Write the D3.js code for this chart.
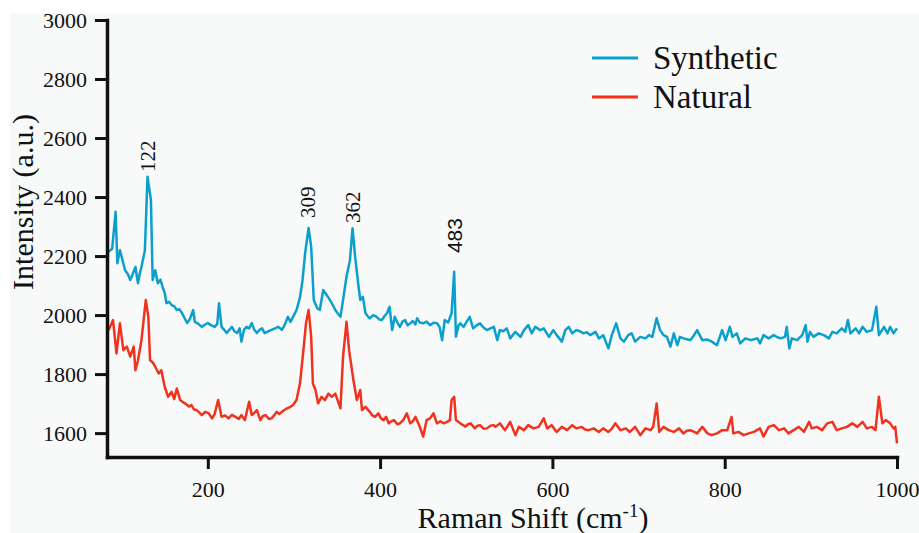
<!DOCTYPE html>
<html>
<head>
<meta charset="utf-8">
<script src="https://cdn.jsdelivr.net/npm/d3@7"></script>
<style>
  body { margin: 0; background: #ffffff; }
</style>
</head>
<body>
<div id="chart"></div>
<script>
// Raman spectra
var synShift = [84,89,93,95,98,101,104,107,110,113,116,119,121,123,127,130,134,136,139,142,145,148,150,152,155,158,161,164,167,170,173,176,179,183,185,189,193,197,200,204,208,211,213,216,219,222,225,228,231,234,237,239,242,245,248,251,254,257,260,263,266,270,274,278,282,286,289,293,296,300,303,307,310,313,317,320,323,327,330,334,338,341,344,348,351,354,357,361,365,368,371,375,377,380,383,386,388,392,396,399,402,405,408,411,414,417,420,423,426,429,432,435,438,441,443,446,450,454,458,462,466,469,472,475,479,483,486,488,491,493,497,500,504,508,512,516,520,524,528,532,536,539,543,547,551,557,563,567,572,576,580,586,590,596,601,605,611,615,619,623,628,632,636,640,644,650,654,659,665,669,674,679,683,688,692,696,702,708,712,716,721,725,729,733,737,741,745,748,752,756,760,764,768,774,780,785,791,797,801,806,809,814,818,824,830,834,838,841,845,851,857,861,865,870,872,875,878,884,890,894,896,899,903,909,915,921,925,930,936,940,943,946,952,956,960,965,971,976,979,985,989,992,996,1000];
var synIntensity = [2213,2225,2350,2176,2220,2186,2152,2140,2119,2140,2163,2108,2140,2163,2220,2469,2390,2119,2152,2108,2120,2091,2075,2040,2045,2034,2030,2017,2020,2007,1990,1973,1985,2017,1977,1970,1960,1968,1973,1965,1960,1970,2040,1960,1950,1939,1950,1960,1945,1939,1955,1910,1950,1960,1955,1973,1950,1939,1950,1955,1939,1945,1950,1955,1960,1950,1965,1994,1977,2000,2017,2060,2119,2210,2295,2232,2051,2023,2017,2085,2068,2055,2040,2017,2005,1994,2051,2130,2186,2294,2198,2096,2051,2062,2006,1995,1989,2000,1994,1985,1983,1996,2006,2028,1949,1994,1975,1960,1978,1983,1965,1972,1980,1968,1989,1975,1972,1978,1966,1974,1972,1960,1915,1983,1975,2006,2147,1927,1965,1972,1960,1975,1994,1955,1965,1972,1958,1949,1955,1960,1915,1949,1945,1955,1921,1943,1926,1949,1966,1938,1960,1949,1955,1926,1949,1932,1910,1949,1960,1938,1949,1945,1938,1942,1932,1943,1921,1932,1887,1932,1972,1921,1910,1932,1938,1910,1926,1921,1932,1926,1989,1949,1932,1926,1893,1938,1898,1926,1921,1918,1915,1930,1949,1915,1917,1910,1898,1949,1915,1960,1926,1938,1904,1921,1915,1918,1921,1904,1932,1921,1932,1925,1921,1926,1960,1887,1921,1915,1932,1966,1910,1943,1926,1938,1932,1921,1943,1938,1955,1943,1983,1938,1955,1938,1960,1943,1949,2028,1932,1960,1938,1960,1938,1955];

var natShift = [85,90,94,98,102,106,110,114,116,119,123,128,131,133,136,139,143,146,150,154,158,161,164,168,171,174,178,181,184,187,190,193,197,201,205,208,212,216,220,224,228,232,236,239,243,248,251,254,257,261,264,267,271,274,277,280,283,286,289,292,296,299,303,307,311,314,317,320,322,325,328,332,336,340,344,348,352,354,357,361,364,369,373,377,379,383,388,391,394,398,401,404,407,410,413,416,420,423,427,431,435,438,441,446,450,454,458,462,466,470,474,478,481,483,486,488,493,496,499,502,505,510,513,516,520,524,528,532,534,539,545,551,557,561,567,572,578,584,590,594,599,605,611,617,623,628,634,638,642,648,654,659,665,669,673,679,685,690,696,702,708,714,717,721,724,729,735,741,747,752,756,760,764,768,774,780,785,791,797,803,808,810,816,822,828,834,841,845,851,857,863,869,874,880,886,892,898,901,907,913,919,925,930,936,942,948,954,960,965,971,975,979,983,987,992,996,998,1000];
var natIntensity = [1949,1983,1870,1972,1881,1893,1859,1893,1813,1847,1915,2051,1994,1847,1840,1825,1802,1813,1757,1723,1740,1715,1751,1712,1705,1700,1690,1695,1680,1678,1670,1661,1672,1667,1650,1665,1712,1655,1660,1650,1662,1655,1648,1661,1644,1706,1661,1668,1678,1644,1658,1661,1648,1650,1660,1672,1665,1672,1678,1684,1689,1695,1712,1768,1881,1972,2017,1927,1768,1746,1701,1723,1712,1734,1723,1734,1701,1684,1859,1977,1881,1780,1712,1746,1678,1689,1672,1660,1655,1667,1650,1644,1655,1633,1640,1644,1630,1633,1645,1667,1633,1640,1655,1622,1588,1644,1650,1667,1633,1640,1633,1638,1644,1712,1723,1644,1633,1628,1622,1630,1633,1616,1625,1627,1615,1616,1625,1627,1621,1633,1610,1638,1593,1621,1610,1627,1616,1621,1650,1616,1627,1604,1621,1610,1627,1616,1621,1612,1610,1616,1604,1616,1604,1615,1633,1610,1616,1604,1621,1593,1616,1610,1621,1700,1604,1621,1610,1604,1616,1599,1608,1610,1605,1599,1621,1599,1593,1599,1610,1610,1655,1599,1604,1593,1599,1604,1616,1588,1621,1627,1610,1616,1599,1610,1621,1604,1638,1616,1621,1610,1633,1638,1610,1616,1621,1633,1621,1638,1616,1621,1610,1723,1633,1644,1633,1616,1621,1565];

var seriesNames = ["Synthetic", "Natural"];
var seriesColors = ["#0ba0cc", "#f0321e"];

var xTicks = [200, 400, 600, 800, 1000];
var yTicks = [1600, 1800, 2000, 2200, 2400, 2600, 2800, 3000];

var peakLabels = ["122", "309", "362", "483"];
var peakShift = [130, 316, 368, 486];
var peakLabelBase = [2485, 2329, 2312, 2210];

var serif = "'Liberation Serif', 'Times New Roman', serif";
var sans = "'Liberation Sans', Arial, sans-serif";

var svgWidth = 919;
var svgHeight = 533;

var margin = {
    top: 20,
    right: 22,
    bottom: 76,
    left: 107
};

var width = svgWidth - margin.left - margin.right;
var height = svgHeight - margin.top - margin.bottom;

var svg = d3.select("#chart")
    .append("svg")
    .attr("width", svgWidth)
    .attr("height", svgHeight);

// light grey panel like the reference
svg.append("rect")
    .attr("x", 10)
    .attr("y", 13)
    .attr("width", svgWidth - 10)
    .attr("height", svgHeight - 13)
    .attr("fill", "#f8f9f9");

var chartGroup = svg.append("g")
    .attr("transform", `translate(${margin.left}, ${margin.top})`);

var xScale = d3.scaleLinear().domain([83, 1000]).range([0, width]);
var yScale = d3.scaleLinear().domain([1519, 3000]).range([height, 0]);

var bottomAxis = d3.axisBottom(xScale)
    .tickValues(xTicks)
    .tickFormat(d3.format("d"))
    .tickSize(12)
    .tickSizeOuter(0)
    .tickPadding(12);

var leftAxis = d3.axisLeft(yScale)
    .tickValues(yTicks)
    .tickFormat(d3.format("d"))
    .tickSize(12)
    .tickSizeOuter(0)
    .tickPadding(8);

var synData = synShift.map((s, i) => ({shift: s, value: synIntensity[i]}));
var natData = natShift.map((s, i) => ({shift: s, value: natIntensity[i]}));

var line = d3.line()
    .x(d => xScale(d.shift))
    .y(d => yScale(d.value));

[synData, natData].forEach(function(data, i) {
    chartGroup.append("path")
        .datum(data)
        .attr("d", line)
        .attr("fill", "none")
        .attr("stroke", seriesColors[i])
        .attr("stroke-width", 2.5)
        .attr("stroke-linejoin", "round");
});

var xAxisG = chartGroup.append("g")
    .attr("transform", `translate(0,${height})`)
    .call(bottomAxis);

var yAxisG = chartGroup.append("g")
    .call(leftAxis);

[xAxisG, yAxisG].forEach(function(g) {
    g.select(".domain").attr("stroke", "#111").attr("stroke-width", 3.5).attr("stroke-linecap", "square");
    g.selectAll(".tick line").attr("stroke", "#111").attr("stroke-width", 3);
    g.selectAll(".tick text")
        .style("font-size", "22px")
        .style("font-family", serif)
        .attr("fill", "#111");
});

// peak labels
chartGroup.selectAll(null)
    .data(peakLabels)
    .enter()
    .append("text")
    .attr("transform", (d, i) => `translate(${xScale(peakShift[i])},${yScale(peakLabelBase[i])}) rotate(-90)`)
    .attr("dy", "0.35em")
    .style("font-size", "21px")
    .style("font-family", (d, i) => i === 3 ? sans : serif)
    .attr("fill", "#111")
    .text(d => d);

// legend
var legend = chartGroup.append("g")
    .attr("transform", "translate(485, 38)");

seriesNames.forEach(function(name, i) {
    legend.append("line")
        .attr("x1", 0)
        .attr("x2", 46)
        .attr("y1", i * 39)
        .attr("y2", i * 39)
        .attr("stroke", seriesColors[i])
        .attr("stroke-width", 3);
    legend.append("text")
        .attr("x", 61)
        .attr("y", i * 39 + 11)
        .style("font-size", "33px")
        .style("font-family", serif)
        .attr("fill", "#111")
        .text(name);
});

// axis titles
svg.append("text")
    .attr("transform", "translate(33, 202) rotate(-90)")
    .style("font-size", "30px")
    .style("font-family", serif)
    .attr("fill", "#111")
    .style("text-anchor", "middle")
    .text("Intensity (a.u.)");

var xTitle = svg.append("text")
    .attr("x", 533)
    .attr("y", 528)
    .style("font-size", "30px")
    .style("font-family", serif)
    .attr("fill", "#111")
    .style("text-anchor", "middle");
xTitle.append("tspan").text("Raman Shift (cm");
xTitle.append("tspan").style("font-size", "19px").attr("dy", -11).text("-1");
xTitle.append("tspan").attr("dy", 11).text(")");
</script>
</body>
</html>
